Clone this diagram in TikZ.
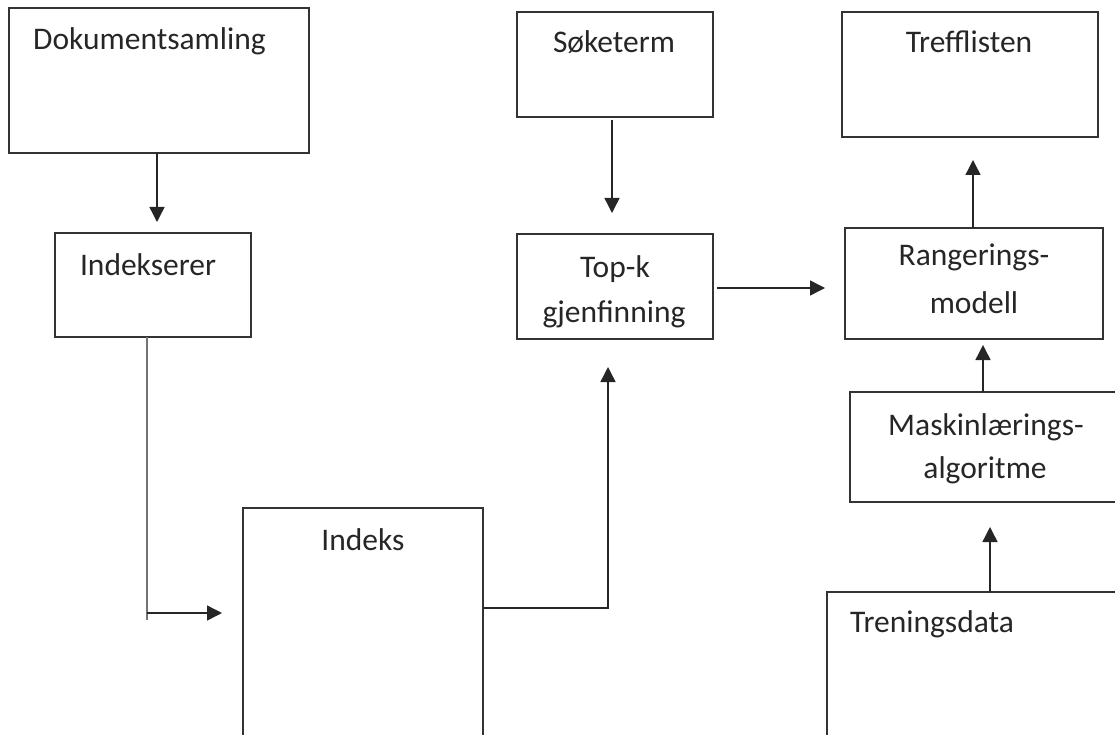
\documentclass[tikz,border=0pt]{standalone}
\usepackage{fontspec}
\setmainfont{Carlito}
\usetikzlibrary{arrows.meta}
\begin{document}
\begin{tikzpicture}[x=1pt,y=-1pt,
  box/.style={draw=black!80, line width=1.4pt, inner sep=0pt, outer sep=0pt, rectangle},
  lbl/.style={text=black!85, font=\fontsize{31.5}{38}\selectfont, inner sep=0pt, anchor=base},
  arr/.style={draw=black!85, line width=1.4pt, -{Triangle[length=15pt,width=15pt]}},
  grayline/.style={draw=black!55, line width=1.4pt}
  ]
\useasboundingbox (0,0) rectangle (1115,735);
\clip (0,0) rectangle (1115,735);
% boxes
\node[box, minimum width=300, minimum height=145] (A) at (159,80.5) {};
\node[box, minimum width=196, minimum height=104] (B) at (153,285) {};
\node[box, minimum width=240, minimum height=252] (C) at (363,634) {};
\node[box, minimum width=196, minimum height=105] (D) at (615,64.5) {};
\node[box, minimum width=196, minimum height=105] (E) at (615,286.5) {};
\node[box, minimum width=256, minimum height=125] (F) at (970,74.5) {};
\node[box, minimum width=258, minimum height=111] (G) at (974,283.5) {};
\node[box, minimum width=275, minimum height=110] (H) at (987.5,447) {};
\node[box, minimum width=303, minimum height=168] (I) at (978.5,676) {};
% labels
\node[lbl, anchor=base west] (tA) at (33,50) {Dokumentsamling};
\node[lbl] (tB) at (148,275) {Indekserer};
\node[lbl] (tC) at (363,550) {Indeks};
\node[lbl] (tD) at (614,53) {Søketerm};
\node[lbl] (tE1) at (615,277) {Top-k};
\node[lbl] (tE2) at (614,322) {gjenfinning};
\node[lbl] (tF) at (969,53) {Trefflisten};
\node[lbl] (tG1) at (974,265) {Rangerings-};
\node[lbl] (tG2) at (974,313) {modell};
\node[lbl] (tH1) at (986,435) {Maskinlærings-};
\node[lbl] (tH2) at (985,478) {algoritme};
\node[lbl, anchor=base west] (tI) at (850,632) {Treningsdata};
% connectors
\draw[arr, shorten >=11pt] (157,0 |- A.south) -- (157,0 |- B.north);
\coordinate (bc) at (147,613);
\draw[grayline] (147,0 |- B.south) -- (147,620);
\draw[arr, shorten >=21pt] (bc) -- (bc -| C.west);
\draw[arr, shorten >=28pt] (C.east |- 0,608) -- (608,608) -- (608,0 |- E.south);
\draw[arr, shorten <=3pt, shorten >=21pt] (612,0 |- D.south) -- (612,0 |- E.north);
\draw[arr, shorten <=4pt, shorten >=20pt] (E.east |- 0,288) -- (G.west |- 0,288);
\draw[arr, shorten >=23pt] (973,0 |- G.north) -- (973,0 |- F.south);
\draw[arr, shorten >=6pt] (983,0 |- H.north) -- (983,0 |- G.south);
\draw[arr, shorten >=25pt] (990,0 |- I.north) -- (990,0 |- H.south);
\end{tikzpicture}
\end{document}
